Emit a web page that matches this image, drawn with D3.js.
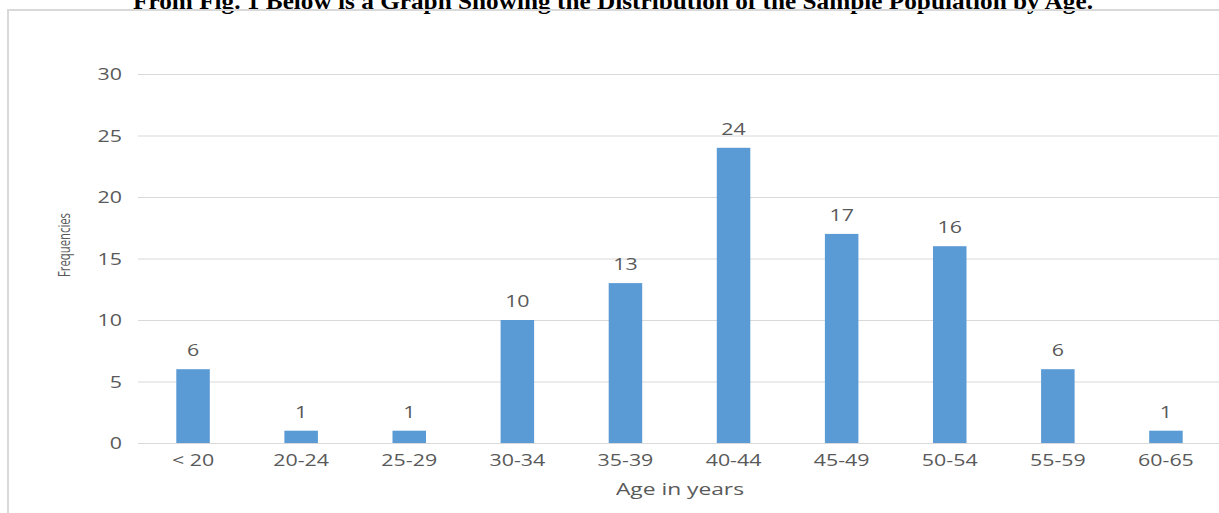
<!DOCTYPE html>
<html>
<head>
<meta charset="utf-8">
<script src="https://cdn.jsdelivr.net/npm/d3@7"></script>
<style>
  html, body { margin: 0; padding: 0; background: #fff; }
  svg { display: block; }
</style>
</head>
<body>
<svg id="chart" width="1219" height="513"></svg>
<script>
// Age groups and how many respondents fall in each
const ageGroups = ["< 20", "20-24", "25-29", "30-34", "35-39", "40-44", "45-49", "50-54", "55-59", "60-65"];
const frequencies = [6, 1, 1, 10, 13, 24, 17, 16, 6, 1];
const yTicks = [0, 5, 10, 15, 20, 25, 30];

const svg = d3.select("#chart");
const W = 1219, H = 513;
const font = "'Open Sans', 'DejaVu Sans', sans-serif";
const textCol = "#595959";
const stretch = 1.38; // wide lettering of the chart labels

// Heading above the figure
svg.append("text")
  .attr("x", 613)
  .attr("y", 9)
  .attr("text-anchor", "middle")
  .attr("font-family", "'Liberation Serif', 'Times New Roman', serif")
  .attr("font-weight", "bold")
  .attr("font-size", 23)
  .attr("textLength", 960)
  .attr("lengthAdjust", "spacingAndGlyphs")
  .attr("fill", "#000")
  .text("From Fig. 1 Below is a Graph Showing the Distribution of the Sample Population by Age.");

// Chart frame
svg.append("rect")
  .attr("x", 8).attr("y", 10)
  .attr("width", W + 20).attr("height", H + 20)
  .attr("fill", "none")
  .attr("stroke", "#d9d9d9")
  .attr("stroke-width", 2);

const x = d3.scaleBand()
  .domain(ageGroups)
  .range([139, 1220])
  .paddingInner(0.69)
  .paddingOuter(0.345);

const y = d3.scaleLinear()
  .domain([0, 30])
  .range([443, 74]);

// Horizontal gridlines with value labels on the left
const yAxis = d3.axisLeft(y)
  .tickValues(yTicks)
  .tickSize(-(1220 - 138))
  .tickPadding(0)
  .tickFormat(d3.format("d"));

const gy = svg.append("g")
  .attr("transform", "translate(138,0)")
  .call(yAxis);
gy.select(".domain").remove();
gy.selectAll(".tick line").attr("stroke", "#d9d9d9").attr("stroke-width", 1);
gy.selectAll(".tick text")
  .attr("x", 0)
  .attr("dy", "0.36em")
  .attr("transform", `translate(-16,0) scale(${stretch},1)`)
  .attr("font-family", font)
  .attr("font-size", 15.5)
  .attr("fill", textCol);

// Category labels under the bars
const xAxis = d3.axisBottom(x).tickSize(0).tickPadding(12);
const gx = svg.append("g")
  .attr("transform", "translate(0,443)")
  .call(xAxis);
gx.select(".domain").remove();
gx.selectAll(".tick text")
  .attr("transform", `scale(${stretch},1)`)
  .attr("font-family", font)
  .attr("font-size", 15.5)
  .attr("fill", textCol);

// Bars
svg.append("g")
  .selectAll("rect")
  .data(ageGroups)
  .join("rect")
  .attr("x", d => x(d))
  .attr("width", x.bandwidth())
  .attr("y", (d, i) => y(frequencies[i]))
  .attr("height", (d, i) => y(0) - y(frequencies[i]))
  .attr("fill", "#5b9bd5");

// Value labels above bars
svg.append("g")
  .selectAll("text")
  .data(ageGroups)
  .join("text")
  .attr("transform", (d, i) =>
    `translate(${x(d) + x.bandwidth() / 2},${y(frequencies[i]) - 13}) scale(${stretch},1)`)
  .attr("text-anchor", "middle")
  .attr("font-family", font)
  .attr("font-size", 15.5)
  .attr("fill", textCol)
  .text((d, i) => frequencies[i]);

// Axis titles
svg.append("text")
  .attr("transform", `translate(680,495) scale(${stretch},1)`)
  .attr("text-anchor", "middle")
  .attr("font-family", font)
  .attr("font-size", 16.5)
  .attr("fill", textCol)
  .text("Age in years");

svg.append("text")
  .attr("transform", "translate(70,245) rotate(-90)")
  .attr("text-anchor", "middle")
  .attr("font-family", "'Liberation Sans Narrow', 'Open Sans', sans-serif")
  .attr("font-size", 17)
  .attr("textLength", 64)
  .attr("lengthAdjust", "spacingAndGlyphs")
  .attr("fill", textCol)
  .text("Frequencies");
</script>
</body>
</html>
